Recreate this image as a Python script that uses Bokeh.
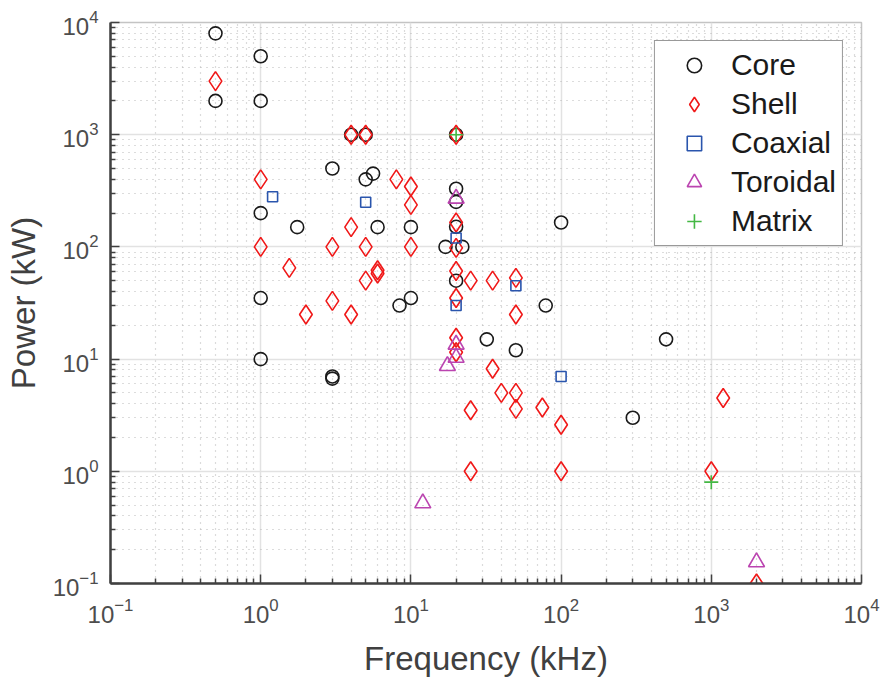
from bokeh.plotting import figure
from bokeh.models import Legend, LegendItem, FixedTicker
from bokeh.embed import file_html
from bokeh.resources import INLINE

# ---------------- data ----------------
core_f = [0.5, 1, 0.5, 1, 4, 5, 20, 3, 5, 5.6, 1, 1.75, 6, 10, 20, 20, 20, 17, 22, 20,
          100, 1, 8.4, 10, 79, 32, 50, 500, 1, 3, 3, 300]
core_p = [8000, 5000, 2000, 2000, 1000, 1000, 1000, 500, 400, 450, 200, 150, 150, 150, 330, 252, 151, 100, 100, 50,
          165, 35, 30, 35, 30, 15, 12, 15, 10, 7.0, 6.7, 3]

shell_f = [0.5, 4, 5, 20, 1, 8, 10, 10, 20, 20, 1, 3, 5, 10, 4, 1.55, 6, 6, 20, 5, 25, 35, 50,
           20, 3, 2, 4, 50, 20, 20, 35, 40, 50, 25, 50, 75, 100, 1200, 25, 100, 1000, 2000]
shell_p = [3000, 1000, 1000, 1000, 400, 400, 345, 237, 165, 98, 100, 100, 100, 100, 150, 65, 62, 58, 61, 50, 50, 50, 53,
           35, 33, 25, 25, 25, 15.5, 11.5, 8.2, 5, 5, 3.5, 3.6, 3.7, 2.6, 4.5, 1, 1, 1, 0.1]

coax_f = [1.2, 5, 20, 20, 50, 100]
coax_p = [280, 250, 120, 30, 45, 7]

toro_f = [20, 20, 20, 17.5, 12, 2000]
toro_p = [270, 13.5, 10.3, 8.7, 0.52, 0.155]

matrix_f = [20, 1000]
matrix_p = [1000, 0.8]

series_names = ["Core", "Shell", "Coaxial", "Toroidal", "Matrix"]
x_ticks = [0.1, 1, 10, 100, 1000, 10000]
y_ticks = [0.1, 1, 10, 100, 1000, 10000]

FONT = "Liberation Sans"

p = figure(width=882, height=679, x_axis_type="log", y_axis_type="log",
           x_range=(0.1, 10000), y_range=(0.1, 10000),
           output_backend="svg", toolbar_location=None,
           min_border_left=110, min_border_right=21, min_border_top=22, min_border_bottom=92)
p.background_fill_color = "white"
p.border_fill_color = "white"
p.outline_line_color = "#c4c4c4"
p.outline_line_width = 1.5

minors = [m * 10 ** e for e in range(-1, 4) for m in range(2, 10)]
xaxis = p.xaxis[0]
yaxis = p.yaxis[0]
xaxis.ticker = FixedTicker(ticks=x_ticks, minor_ticks=minors)
yaxis.ticker = FixedTicker(ticks=y_ticks, minor_ticks=minors)

for ax in (xaxis, yaxis):
    ax.axis_line_color = "#404040"
    ax.axis_line_width = 2.5
    ax.major_tick_line_color = "#404040"
    ax.minor_tick_line_color = "#404040"
    ax.major_tick_line_width = 1.5
    ax.minor_tick_line_width = 1.5
    ax.major_tick_in = 9
    ax.major_tick_out = 0
    ax.minor_tick_in = 5
    ax.minor_tick_out = 0
    ax.major_label_text_font = FONT
    ax.major_label_text_font_size = "24px"
    ax.major_label_text_color = "#4d4d4d"
    ax.axis_label_text_font = FONT
    ax.axis_label_text_font_size = "33px"
    ax.axis_label_text_font_style = "normal"
    ax.axis_label_text_color = "#404040"

xaxis.major_label_standoff = 14
yaxis.major_label_standoff = 12
xaxis.axis_label = "Frequency (kHz)"
yaxis.axis_label = "Power (kW)"
xaxis.axis_label_standoff = 14
yaxis.axis_label_standoff = 8

for g in (p.xgrid[0], p.ygrid[0]):
    g.grid_line_color = "#e2e2e2"
    g.grid_line_width = 1.5
    g.minor_grid_line_color = "#b8b8b8"
    g.minor_grid_line_dash = "1 5"
    g.minor_grid_line_width = 1.2
p.xgrid[0].ticker = xaxis.ticker
p.ygrid[0].ticker = yaxis.ticker

r_core = p.scatter(core_f, core_p, marker="circle", size=13, fill_color=None,
                   line_color="#1a1a1a", line_width=1.6)
r_shell = p.scatter(shell_f, shell_p, marker="diamond", size=19, fill_color=None,
                    line_color="#f01818", line_width=1.6)
r_coax = p.scatter(coax_f, coax_p, marker="square", size=10, fill_color=None,
                   line_color="#2a55ad", line_width=1.6)
r_toro = p.scatter(toro_f, toro_p, marker="triangle", size=16, fill_color=None,
                   line_color="#bb44b0", line_width=1.6)
r_matrix = p.scatter(matrix_f, matrix_p, marker="cross", size=14,
                     line_color="#44b844", line_width=1.6)

renderers = [r_core, r_shell, r_coax, r_toro, r_matrix]
legend = Legend(items=[LegendItem(label=n, renderers=[r]) for n, r in zip(series_names, renderers)],
                location="top_right")
legend.label_text_font = FONT
legend.label_text_font_size = "30px"
legend.label_text_color = "#1a1a1a"
legend.padding = 6
legend.spacing = 3
legend.margin = 18
legend.glyph_width = 66
legend.glyph_height = 36
legend.label_height = 36
legend.label_standoff = 4
legend.border_line_color = "#333333"
legend.border_line_width = 1.2
legend.background_fill_color = "white"
legend.background_fill_alpha = 1.0
p.add_layout(legend, "center")

open("out.html", "w").write(file_html(p, INLINE))
